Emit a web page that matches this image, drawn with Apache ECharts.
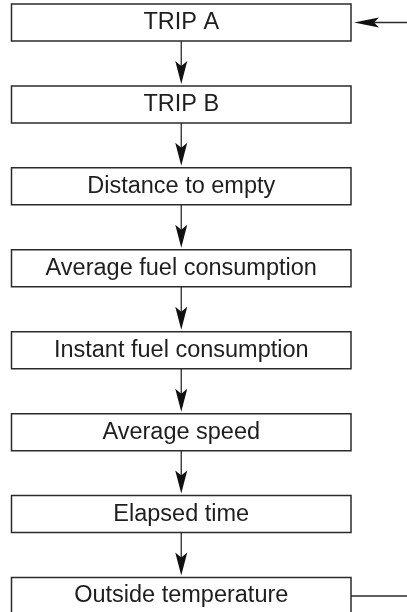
<!DOCTYPE html>
<html>
<head>
<meta charset="utf-8">
<script src="https://cdn.jsdelivr.net/npm/echarts@6/dist/echarts.min.js"></script>
<style>
  html, body { margin: 0; padding: 0; background: #ffffff; }
  #chart { width: 407px; height: 612px; }
</style>
</head>
<body>
<div id="chart"></div>
<script>
// Steps of the trip computer display, in cycling order
const steps = [
  "TRIP A",
  "TRIP B",
  "Distance to empty",
  "Average fuel consumption",
  "Instant fuel consumption",
  "Average speed",
  "Elapsed time",
  "Outside temperature",
];

// Arrows between consecutive steps: [from, to]
const links = steps.slice(0, -1).map((s, i) => [s, steps[i + 1]]);

// Return path: last step leaves on the right, comes back into the first one
const loopOut = steps[steps.length - 1];
const loopIn = steps[0];

const BOX_H = 37;
const LINE = "#2b2b2b";
const FONT = '23.5px "Liberation Sans", Arial, Helvetica, sans-serif';

function arrowHead(tipX, tipY, dir, len, half) {
  // dir: "down" or "left"
  if (dir === "down") {
    return [
      [tipX, tipY],
      [tipX - half, tipY - len],
      [tipX, tipY - len + 5],
      [tipX + half, tipY - len],
    ];
  }
  return [
    [tipX, tipY],
    [tipX + len, tipY - half],
    [tipX + len - 5, tipY],
    [tipX + len, tipY + half],
  ];
}

function renderBox(params, api) {
  const name = steps[api.value(0)];
  const left = api.coord([0, name]);
  const right = api.coord([1, name]);
  const cx = (left[0] + right[0]) / 2;
  return {
    type: "group",
    children: [
      {
        type: "rect",
        shape: { x: left[0], y: left[1] - BOX_H / 2, width: right[0] - left[0], height: BOX_H },
        style: { fill: "#ffffff", stroke: LINE, lineWidth: 1.5 },
      },
      {
        type: "text",
        style: {
          text: name,
          x: cx,
          y: left[1],
          align: "center",
          verticalAlign: "middle",
          font: FONT,
          fill: "#1e1e1e",
        },
      },
    ],
  };
}

function renderLink(params, api) {
  const from = api.coord([0.5, links[params.dataIndex][0]]);
  const to = api.coord([0.5, links[params.dataIndex][1]]);
  const x = from[0];
  const y0 = from[1] + BOX_H / 2;
  const tip = to[1] - BOX_H / 2 - 2;
  return {
    type: "group",
    children: [
      { type: "line", shape: { x1: x, y1: y0, x2: x, y2: tip - 10 }, style: { stroke: LINE, lineWidth: 1.3 } },
      { type: "polygon", shape: { points: arrowHead(x, tip, "down", 23, 6) }, style: { fill: "#111111" } },
    ],
  };
}

function renderLoop(params, api) {
  const edgeX = api.coord([1, loopIn])[0];
  const outY = api.coord([1, loopOut])[1];
  const inY = api.coord([1, loopIn])[1];
  const w = api.getWidth();
  return {
    type: "group",
    children: [
      { type: "line", shape: { x1: edgeX, y1: outY, x2: w, y2: outY }, style: { stroke: LINE, lineWidth: 1.3 } },
      { type: "line", shape: { x1: edgeX + 14, y1: inY, x2: w, y2: inY }, style: { stroke: LINE, lineWidth: 1.3 } },
      { type: "polygon", shape: { points: arrowHead(edgeX + 3, inY, "left", 25, 5) }, style: { fill: "#111111" } },
    ],
  };
}

const chart = echarts.init(document.getElementById("chart"), null, { renderer: "canvas" });

chart.setOption({
  animation: false,
  backgroundColor: "#ffffff",
  grid: { left: 11.5, right: 56, top: 22.5, bottom: 16 },
  xAxis: { type: "value", min: 0, max: 1, show: false },
  yAxis: { type: "category", data: steps, inverse: true, boundaryGap: false, show: false },
  series: [
    {
      type: "custom",
      renderItem: renderLink,
      data: links.map((l, i) => [i]),
      clip: false,
      z: 1,
    },
    {
      type: "custom",
      renderItem: renderLoop,
      data: [[0]],
      clip: false,
      z: 1,
    },
    {
      type: "custom",
      renderItem: renderBox,
      data: steps.map((s, i) => [i]),
      clip: false,
      z: 2,
    },
  ],
});

window.addEventListener("resize", () => chart.resize());
</script>
</body>
</html>
